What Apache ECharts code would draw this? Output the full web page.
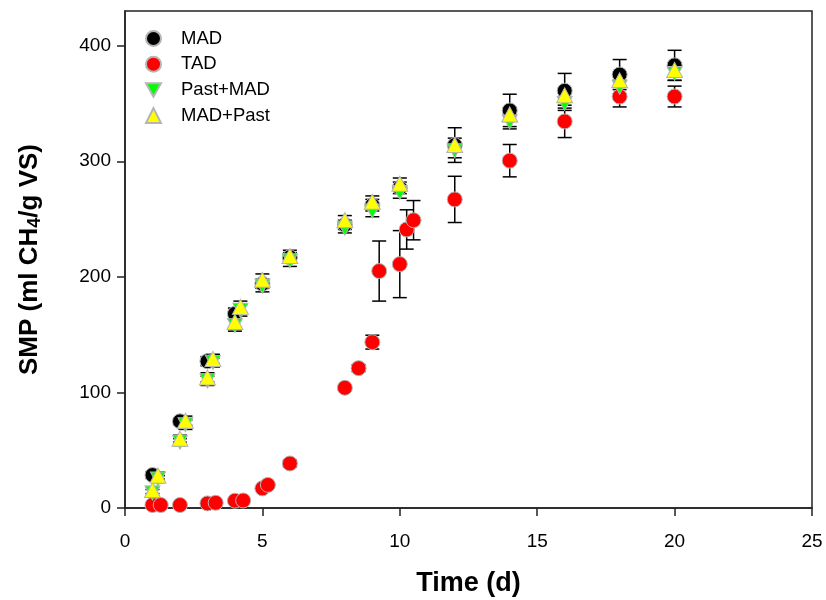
<!DOCTYPE html>
<html>
<head>
<meta charset="utf-8">
<script src="https://cdn.jsdelivr.net/npm/echarts@6/dist/echarts.min.js"></script>
<style>html,body{margin:0;padding:0;background:#fff;}#c{width:826px;height:600px;}</style>
</head>
<body>
<div id="c"></div>
<script>
// ---- data ----
const seriesNames = ['MAD', 'TAD', 'Past+MAD', 'MAD+Past'];

const madX = [1, 2, 3, 4, 5, 6, 8, 9, 10, 12, 14, 16, 18, 20];
const madY = [28.5, 75, 127, 168, 194, 217, 245, 262, 277, 314, 344, 361, 375, 383];
const madErr = [3, 3, 4, 5, 4, 4, 4, 5, 5, 15, 14, 15, 13, 13];

const tadX = [1, 1.3, 2, 3, 3.3, 4, 4.3, 5, 5.2, 6, 8, 8.5, 9, 9.25, 10, 10.25, 10.5, 12, 14, 16, 18, 20];
const tadY = [2.6, 2.6, 2.6, 4, 4.5, 6.3, 6.5, 17, 20, 38.5, 104, 121, 143.5, 205, 211, 241, 249, 267, 300.5, 334.5, 356, 356];
const tadErr = [1, 1, 1, 1, 1, 1, 1, 1, 1, 3, 1, 3, 6, 26, 29, 17, 17, 20, 14, 14, 9, 9];

const pastMadX = [1, 1.2, 2, 2.2, 3, 3.2, 4, 4.2, 5, 6, 8, 9, 10, 12, 14, 16, 18, 20];
const pastMadY = [13, 25, 57, 72, 110, 126, 158, 171, 192, 214, 242, 257, 273, 309, 334, 350, 364, 376];
const pastMadErr = [3, 3, 3, 4, 4, 4, 5, 5, 5, 5, 4, 5, 5, 6, 6, 6, 6, 6];

const madPastX = [1, 1.2, 2, 2.2, 3, 3.2, 4, 4.2, 5, 6, 8, 9, 10, 12, 14, 16, 18, 20];
const madPastY = [15.5, 28, 60, 75.5, 113, 129, 161, 174, 197.5, 218, 249, 265, 280.5, 314, 340.5, 357, 370, 379];
const madPastErr = [3, 3, 3, 4, 4, 4, 5, 5, 5, 5, 4, 5, 5, 6, 6, 6, 6, 6];

const xTicks = [0, 5, 10, 15, 20, 25];
const yTicks = [0, 100, 200, 300, 400];

// ---- helpers ----
const pts = (xs, ys) => xs.map((x, i) => [x, ys[i]]);
const errs = (xs, ys, es) => xs.map((x, i) => [x, ys[i] - es[i], ys[i] + es[i]]);
const FONT = 'Liberation Sans, Arial, sans-serif';

function renderErr(params, api) {
  const x = api.value(0), lo = api.value(1), hi = api.value(2);
  const p1 = api.coord([x, hi]), p2 = api.coord([x, lo]);
  const w = 7;
  const st = { stroke: '#000', lineWidth: 1.5 };
  return {
    type: 'group',
    children: [
      { type: 'line', shape: { x1: p1[0], y1: p1[1], x2: p2[0], y2: p2[1] }, style: st },
      { type: 'line', shape: { x1: p1[0] - w, y1: p1[1], x2: p1[0] + w, y2: p1[1] }, style: st },
      { type: 'line', shape: { x1: p2[0] - w, y1: p2[1], x2: p2[0] + w, y2: p2[1] }, style: st }
    ]
  };
}
function errSeries(name, data) {
  return { type: 'custom', name: name, renderItem: renderErr, data: data,
    encode: { x: 0, y: [1, 2] }, z: 1, silent: true };
}
const border = { borderColor: '#b5b5b5', borderWidth: 1 };
const downTri = 'path://M0,0L10,0L5,9Z';

const chart = echarts.init(document.getElementById('c'), null, { renderer: 'canvas' });
chart.setOption({
  animation: false,
  backgroundColor: '#fff',
  textStyle: { fontFamily: FONT },
  grid: { left: 125, right: 14, top: 11, bottom: 92, show: true, borderColor: '#222', borderWidth: 1.5,
    backgroundColor: 'transparent', containLabel: false, outerBoundsMode: 'none' },
  legend: {
    orient: 'vertical', left: 140, top: 24, itemWidth: 15, itemHeight: 15, itemGap: 6.7,
    data: seriesNames,
    textStyle: { fontSize: 18.5, color: '#000', fontFamily: FONT, padding: [0, 0, 0, 15] }
  },
  xAxis: {
    type: 'value', min: 0, max: 25, interval: 5,
    name: 'Time (d)', nameLocation: 'middle', nameGap: 62,
    nameTextStyle: { fontSize: 27, fontWeight: 'bold', color: '#000', fontFamily: FONT },
    axisLine: { lineStyle: { color: '#222', width: 1.5 } },
    axisTick: { show: true, inside: false, length: 8, lineStyle: { color: '#222', width: 1.5 }, customValues: xTicks },
    axisLabel: { fontSize: 19, color: '#000', margin: 24, fontFamily: FONT, customValues: xTicks },
    splitLine: { show: false }
  },
  yAxis: {
    type: 'value', min: 0, max: 430, interval: 100,
    name: '{a|SMP (ml CH}{s|4}{a|/g VS)}', nameLocation: 'middle', nameGap: 81,
    nameTextStyle: { fontSize: 26, fontWeight: 'bold', color: '#000', fontFamily: FONT,
      rich: {
        a: { fontSize: 26, fontWeight: 'bold', color: '#000', fontFamily: FONT },
        s: { fontSize: 18, fontWeight: 'bold', color: '#000', fontFamily: FONT, padding: [11, 0, 0, 0], verticalAlign: 'bottom' }
      } },
    axisLine: { show: true, lineStyle: { color: '#222', width: 1.5 } },
    axisTick: { show: true, inside: false, length: 8, lineStyle: { color: '#222', width: 1.5 }, customValues: yTicks },
    axisLabel: { fontSize: 19, color: '#000', margin: 14, fontFamily: FONT, customValues: yTicks,
      formatter: v => (v % 100 === 0 ? String(v) : '') },
    splitLine: { show: false }
  },
  series: [
    errSeries('errMAD', errs(madX, madY, madErr)),
    errSeries('errTAD', errs(tadX, tadY, tadErr)),
    errSeries('errPastMAD', errs(pastMadX, pastMadY, pastMadErr)),
    errSeries('errMADPast', errs(madPastX, madPastY, madPastErr)),
    { type: 'scatter', name: 'MAD', data: pts(madX, madY), symbol: 'circle', symbolSize: 15, z: 2,
      itemStyle: Object.assign({ color: '#000', opacity: 1 }, border) },
    { type: 'scatter', name: 'TAD', data: pts(tadX, tadY), symbol: 'circle', symbolSize: 15, z: 3,
      itemStyle: Object.assign({ color: '#ff0000', opacity: 1 }, border) },
    { type: 'scatter', name: 'Past+MAD', data: pts(pastMadX, pastMadY), symbol: downTri, symbolSize: [15, 14], z: 4,
      itemStyle: Object.assign({ color: '#00ff00', opacity: 1 }, border) },
    { type: 'scatter', name: 'MAD+Past', data: pts(madPastX, madPastY), symbol: 'triangle', symbolSize: [16, 15], z: 5,
      itemStyle: Object.assign({ color: '#ffff00', opacity: 1 }, border) }
  ]
});
</script>
</body>
</html>
